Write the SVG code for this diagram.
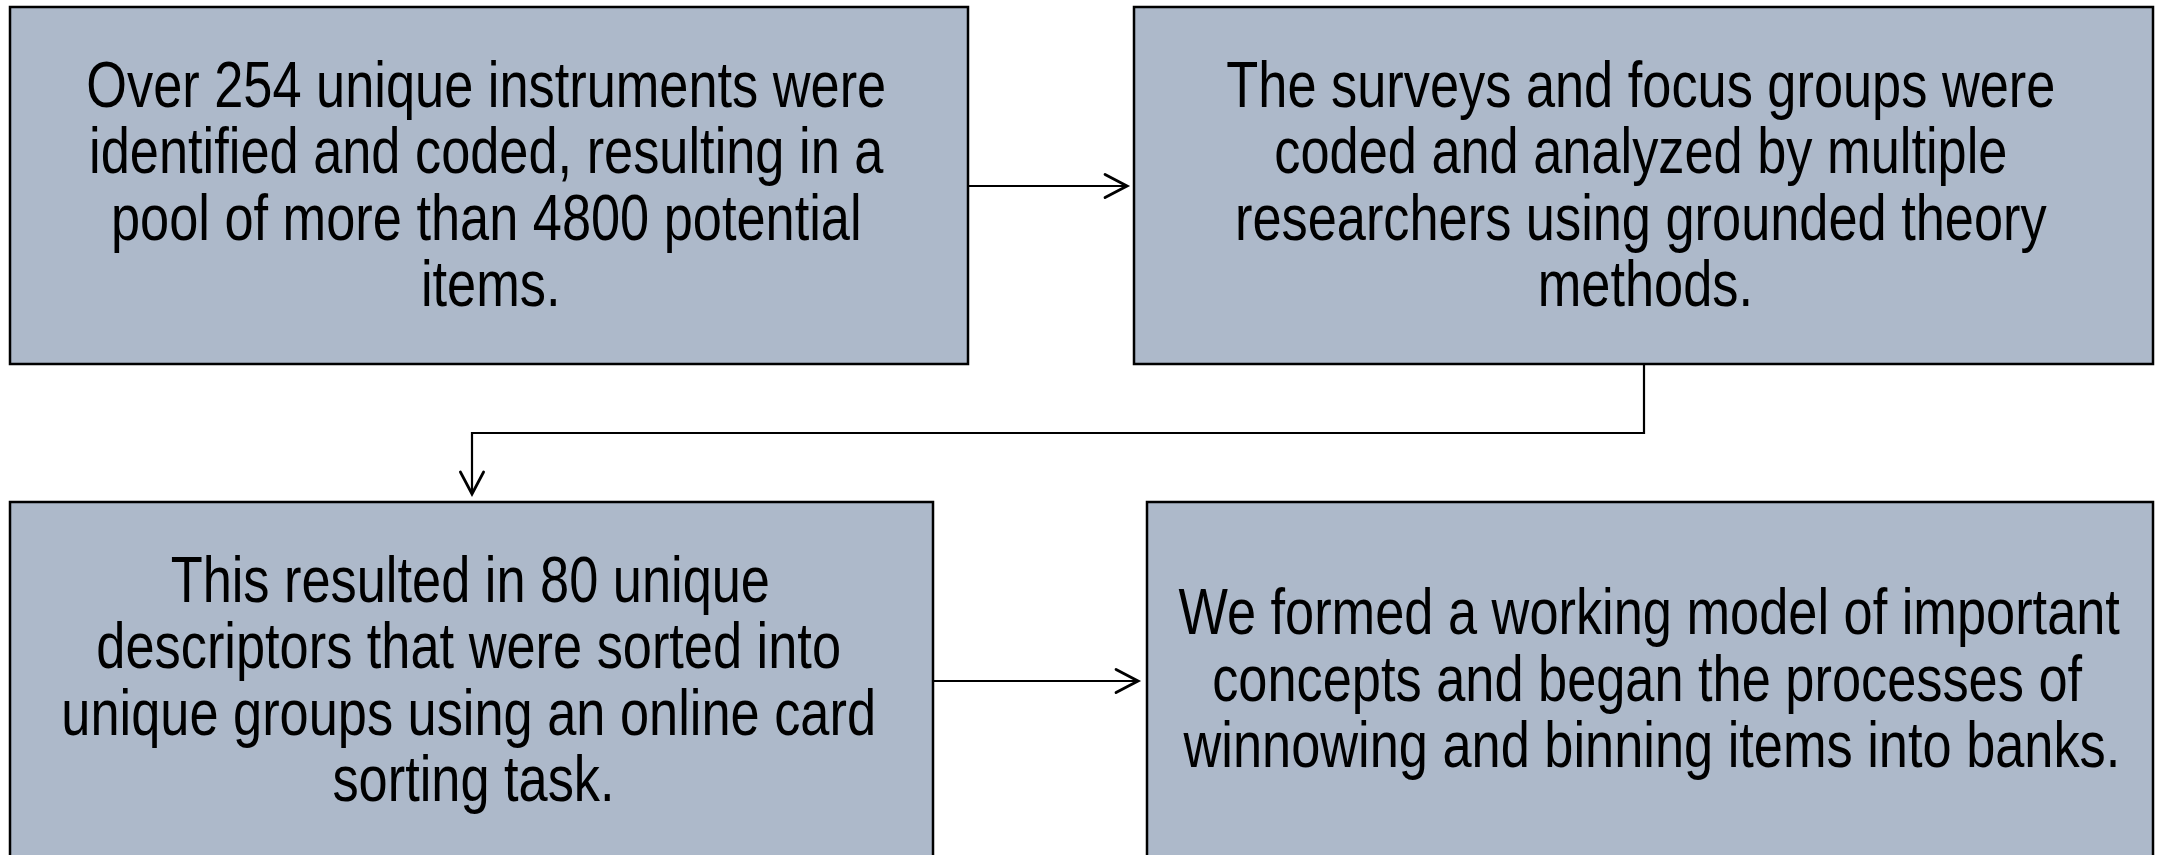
<svg xmlns="http://www.w3.org/2000/svg" width="2157" height="855" viewBox="0 0 2157 855">
<style>
.box{fill:#ADB9CA;stroke:#000;stroke-width:2.5}
.t{font-family:"Liberation Sans",Arial,sans-serif;font-size:64px;fill:#000;text-anchor:middle}
.c{fill:none;stroke:#000;stroke-width:2.2}
</style>
<defs>
<marker id="ah" markerUnits="userSpaceOnUse" markerWidth="30" markerHeight="30" viewBox="-22 -13 26 26" refX="0" refY="0" orient="auto">
<path d="M-19,-10 L0,0 L-19,10" fill="none" stroke="#000" stroke-width="2.5" stroke-linecap="round" stroke-linejoin="miter"/>
</marker>
</defs>
<rect width="2157" height="855" fill="#fff"/>
<g id="connectors">
<path class="c" d="M968 186 H1127" marker-end="url(#ah)"/>
<path class="c" d="M1644 364 V433 H472 V494" marker-end="url(#ah)"/>
<path class="c" d="M933 681 H1138" marker-end="url(#ah)"/>
</g>
<g id="node1">
<rect class="box" x="10" y="7" width="958" height="357"/>
<text class="t" transform="scale(0.8178,1)">
<tspan x="603.5" y="107">Over 254 unique instruments were</tspan>
<tspan x="603.5" y="173.5">identified and coded, resulting in a</tspan>
<tspan x="603.5" y="240">pool of more than 4800 potential</tspan>
<tspan x="600" y="306.5">items.</tspan>
</text>
</g>
<g id="node2">
<rect class="box" x="1134" y="7" width="1019" height="357"/>
<text class="t" transform="scale(0.8178,1)">
<tspan x="2015.3" y="107">The surveys and focus groups were</tspan>
<tspan x="2015.3" y="173.5">coded and analyzed by multiple</tspan>
<tspan x="2015.3" y="240">researchers using grounded theory</tspan>
<tspan x="2012" y="306.5">methods.</tspan>
</text>
</g>
<g id="node3">
<rect class="box" x="10" y="502" width="923" height="380"/>
<text class="t" transform="scale(0.8178,1)">
<tspan x="584" y="602">This resulted in 80 unique</tspan>
<tspan x="582" y="668.5">descriptors that were sorted into</tspan>
<tspan x="582" y="735">unique groups using an online card</tspan>
<tspan x="579" y="801">sorting task.</tspan>
</text>
</g>
<g id="node4">
<rect class="box" x="1147" y="502" width="1006" height="380"/>
<text class="t" transform="scale(0.8178,1)">
<tspan x="2025.5" y="634.5">We formed a working model of important</tspan>
<tspan x="2023" y="701">concepts and began the processes of</tspan>
<tspan x="2020" y="767.5">winnowing and binning items into banks.</tspan>
</text>
</g>
</svg>
